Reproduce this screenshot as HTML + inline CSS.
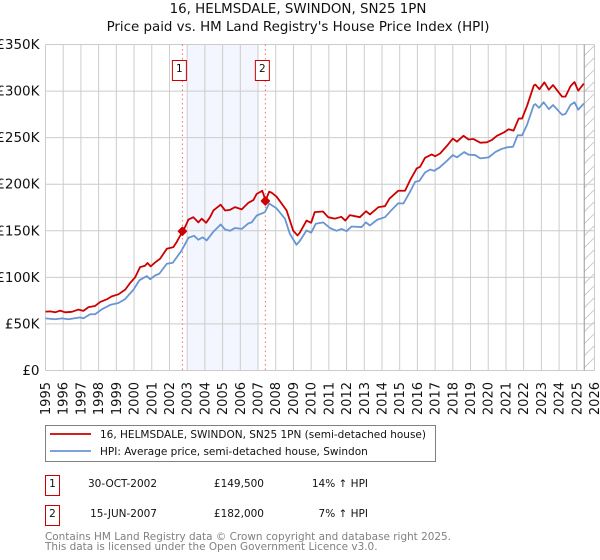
<!DOCTYPE html>
<html><head><meta charset="utf-8"><title>16, HELMSDALE, SWINDON, SN25 1PN</title>
<style>
html,body{margin:0;padding:0;background:#fff}
svg{display:block}
text{font-family:"DejaVu Sans","Liberation Sans",sans-serif;fill:#111}
</style></head>
<body>
<svg id="chart" xmlns="http://www.w3.org/2000/svg" width="600" height="560" viewBox="0 0 600 560">
<defs>
<pattern id="hatch" patternUnits="userSpaceOnUse" width="12" height="12" patternTransform="translate(584 8)">
<path d="M-1 13L13 -1" stroke="#ccc" stroke-width="1" fill="none"/>
</pattern>
</defs>
<text x="298" y="13" text-anchor="middle" font-size="13.4">16, HELMSDALE, SWINDON, SN25 1PN</text>
<text x="298" y="31" text-anchor="middle" font-size="13.4">Price paid vs. HM Land Registry's House Price Index (HPI)</text>
<g id="plot"></g>
<g>
<rect x="45.5" y="425.5" width="390" height="36" fill="#fff" stroke="#808080" stroke-width="1"/>
<line x1="50" y1="434" x2="91" y2="434" stroke="#cc0000" stroke-width="1.8"/>
<text x="100" y="438" font-size="10.5">16, HELMSDALE, SWINDON, SN25 1PN (semi-detached house)</text>
<line x1="50" y1="451" x2="91" y2="451" stroke="#6a95d2" stroke-width="1.8"/>
<text x="100" y="455" font-size="10.5">HPI: Average price, semi-detached house, Swindon</text>
</g>
<g>
<rect x="45.5" y="475.5" width="14" height="20" fill="#fff" stroke="#cc0000" stroke-width="1"/>
<text x="52.5" y="487" text-anchor="middle" font-size="10.5">1</text>
<text x="157" y="487" text-anchor="end" font-size="10.5">30-OCT-2002</text>
<text x="264" y="487" text-anchor="end" font-size="10.5">£149,500</text>
<text x="368" y="487" text-anchor="end" font-size="10.5">14% ↑ HPI</text>
<rect x="45.5" y="505.5" width="14" height="20" fill="#fff" stroke="#cc0000" stroke-width="1"/>
<text x="52.5" y="517" text-anchor="middle" font-size="10.5">2</text>
<text x="157" y="517" text-anchor="end" font-size="10.5">15-JUN-2007</text>
<text x="264" y="517" text-anchor="end" font-size="10.5">£182,000</text>
<text x="368" y="517" text-anchor="end" font-size="10.5">7% ↑ HPI</text>
</g>
<text x="45" y="540" font-size="10.45" style="fill:#808080">Contains HM Land Registry data © Crown copyright and database right 2025.</text>
<text x="45" y="550" font-size="10.45" style="fill:#808080">This data is licensed under the Open Government Licence v3.0.</text>
</svg>
<script>
const yearTicks = [1995,1996,1997,1998,1999,2000,2001,2002,2003,2004,2005,2006,2007,2008,2009,2010,2011,2012,2013,2014,2015,2016,2017,2018,2019,2020,2021,2022,2023,2024,2025,2026];
const valueTicks = [0,50,100,150,200,250,300,350];
const valueTickLabels = ["£0","£50K","£100K","£150K","£200K","£250K","£300K","£350K"];
const priceYears = [1995,1995.26,1995.55,1995.83,1996.11,1996.49,1996.86,1997.14,1997.43,1997.8,1998.09,1998.46,1998.74,1999.12,1999.5,1999.78,2000.06,2000.34,2000.62,2000.76,2000.94,2001.19,2001.47,2001.85,2002.22,2002.41,2002.73,2002.88,2003.07,2003.35,2003.63,2003.82,2004.07,2004.29,2004.48,2004.89,2005.14,2005.42,2005.7,2006.08,2006.45,2006.74,2006.92,2007.24,2007.33,2007.42,2007.63,2007.76,2008.05,2008.61,2008.99,2009.23,2009.36,2009.74,2010,2010.2,2010.67,2010.96,2011.33,2011.7,2011.93,2012.18,2012.75,2013.1,2013.32,2013.8,2014.17,2014.42,2014.92,2015.3,2015.58,2015.96,2016.15,2016.43,2016.81,2017,2017.28,2017.66,2018,2018.23,2018.6,2018.89,2019.17,2019.55,2019.92,2020.21,2020.49,2020.87,2021.15,2021.43,2021.72,2021.91,2022.19,2022.57,2022.66,2022.89,2023.17,2023.42,2023.66,2024.17,2024.36,2024.64,2024.87,2025.08,2025.4];
const priceValues = [63.2,63.5,62.5,64.3,62.5,63,65.4,64,68,69.3,73.6,76.4,79.6,81.8,86.8,94,100,111,112.5,115.4,111.8,116,120,130.7,132.5,138,149,154,162,164.6,159,163,158.6,164.6,171.8,178,171.8,172.5,175.4,173,180,183,189.5,193,188,182,192,191,186.6,172,150,145,148,161,158.6,170,170.7,164.6,163,165,161,166.8,164.6,171,167.5,175.4,176.4,184.5,193,193,204,217,218.7,228.4,232,230,233,241,249,245.7,252,248,248.5,244.6,245,247.5,252,255.4,259,257.5,270.5,270.5,284,305.8,307,302,309.4,301.5,306.5,294,294,305,309.7,300.4,308];
const hpiYears = [1995,1995.55,1995.92,1996.3,1996.96,1997.14,1997.52,1997.8,1998.18,1998.65,1999.12,1999.5,1999.97,2000.3,2000.72,2000.91,2001.19,2001.43,2001.85,2002.19,2002.69,2003.07,2003.39,2003.63,2003.88,2004.1,2004.48,2004.89,2005.14,2005.42,2005.7,2006.08,2006.46,2006.64,2006.93,2007.39,2007.63,2008.05,2008.52,2008.8,2009.17,2009.36,2009.74,2010,2010.26,2010.68,2011.06,2011.43,2011.72,2012,2012.28,2012.85,2013.09,2013.32,2013.74,2014.17,2014.55,2014.92,2015.21,2015.58,2015.87,2016.11,2016.43,2016.72,2016.94,2017.25,2017.66,2018,2018.23,2018.64,2018.89,2019.26,2019.55,2020.02,2020.4,2020.77,2021.06,2021.4,2021.66,2021.91,2022.19,2022.57,2022.66,2022.87,2023.13,2023.42,2023.66,2024.17,2024.36,2024.64,2024.87,2025.08,2025.4];
const hpiValues = [56,55,56,55,57,56,60.4,60.4,65.7,70.4,72.5,76.8,86.8,96.8,101.4,98,102,104,114.6,115.7,129,142.5,144.6,140.4,143,139.6,149,156.8,151.4,150,153,152,158,159,166.4,170,179.3,174,163,146.7,135,139,150.4,148,157.5,159,153,150,152,149.6,154.6,154,159,155.7,162,164.6,172.5,179.6,179.3,191.7,202.5,203.6,212.6,215.8,214.4,218,225,231.3,228.8,234.5,231.7,231.3,227.7,228.8,234.5,238,239.6,240.3,252.5,252.5,263.7,285,286,282,288,280.6,285,274.5,275.5,285,288,280,286.7];
const saleYears = [2002.73,2007.415];
const saleValues = [149.5,182];
const saleLabels = ["1","2"];
const shadeRange = [2003,2007];
const forecastStart = 2025.42;

const NS = "http://www.w3.org/2000/svg";
const plot = document.getElementById("plot");
function xScale(year){ return 45.5 + (year - 1995) * (594.5 - 45.5) / 31; }
function yScale(value){ return 370.5 - value * (370.5 - 44.5) / 350; }
function make(tag, attrs, parent){
  const el = document.createElementNS(NS, tag);
  for (const k in attrs) el.setAttribute(k, attrs[k]);
  (parent || plot).appendChild(el);
  return el;
}
const top_ = yScale(350), bottom_ = yScale(0), left_ = xScale(1995), right_ = xScale(2026);

const shade = make("rect", {x:xScale(shadeRange[0]), y:top_, width:xScale(shadeRange[1])-xScale(shadeRange[0]), height:bottom_-top_, fill:"#f3f6fe"});



yearTicks.forEach(function(yr){
  const gl = make("line", {x1:xScale(yr), x2:xScale(yr), y1:top_, y2:bottom_, stroke:"#cccccc", "stroke-width":1});
  
  
  const x = xScale(yr) + 4.5;
  const lb = make("text", {x:x, y:382, transform:"rotate(-90 "+x+" 382)", "text-anchor":"end", "font-size":13});
  
  
  lb.textContent = yr;
});
valueTicks.forEach(function(v,i){
  const gl = make("line", {x1:left_, x2:right_, y1:yScale(v), y2:yScale(v), stroke:"#cccccc", "stroke-width":1});
  
  
  const lb = make("text", {x:39.5, y:yScale(v)+4.5, "text-anchor":"end", "font-size":13.5});
  
  
  lb.textContent = valueTickLabels[i];
});

const fc = make("rect", {x:xScale(forecastStart), y:top_, width:right_-xScale(forecastStart), height:bottom_-top_, fill:"url(#hatch)"});


const fcLine = make("line", {x1:xScale(forecastStart), x2:xScale(forecastStart), y1:top_, y2:bottom_, stroke:"#999999", "stroke-width":1});



saleYears.forEach(function(yr){
  const vl = make("line", {x1:xScale(yr), x2:xScale(yr), y1:top_, y2:bottom_, stroke:"#ff6b7b", "stroke-width":1, "stroke-dasharray":"1.5 3"});
  
  
});

function pathFrom(xs, ys){
  return xs.map(function(yr,i){ return (i?"L":"M") + xScale(yr).toFixed(2) + " " + yScale(ys[i]).toFixed(2); }).join("");
}
const hpiLine = make("path", {d:pathFrom(hpiYears,hpiValues), fill:"none", stroke:"#6a95d2", "stroke-width":1.8, "stroke-linejoin":"round"});


const priceLine = make("path", {d:pathFrom(priceYears,priceValues), fill:"none", stroke:"#cc0000", "stroke-width":1.8, "stroke-linejoin":"round"});



saleYears.forEach(function(yr,i){
  const cx = xScale(yr), cy = yScale(saleValues[i]);
  const m = make("path", {d:"M"+cx+" "+(cy-4)+"L"+(cx+4)+" "+cy+"L"+cx+" "+(cy+4)+"L"+(cx-4)+" "+cy+"Z", fill:"#cc0000", stroke:"#cc0000", "stroke-width":1.5, "stroke-linejoin":"round"});
  
  
  const b = make("rect", {x:cx-10, y:60.5, width:14, height:20, fill:"#fff", stroke:"#cc0000", "stroke-width":1});
  
  
  const t = make("text", {x:cx-3, y:72, "text-anchor":"middle", "font-size":10.5});
  
  
  t.textContent = saleLabels[i];
});
</script>
</body></html>
